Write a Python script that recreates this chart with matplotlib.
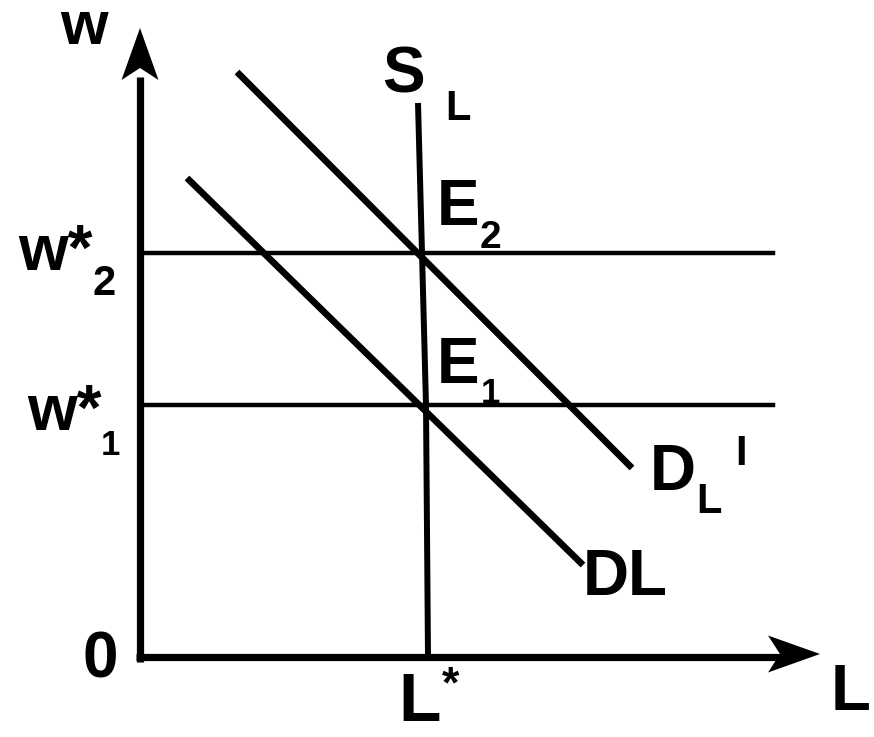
import numpy as np
import matplotlib
matplotlib.use("Agg")
import matplotlib.pyplot as plt
from matplotlib.patches import Polygon

# datos (unidades arbitrarias, origen en la esquina de los ejes)
w1 = 252
w2 = 404
L_star = 288
x_max = 633          # fin de las rectas horizontales
oferta_L = [278, 282, 286, 288]
oferta_w = [554, 404, 252, 0]
demanda_L = [47, 443]
demanda_w = [479, 92]
demanda2_L = [97, 492]
demanda2_w = [585, 189]

fig = plt.figure(figsize=(8.74, 7.37), dpi=100)
ax = fig.add_axes([0, 0, 1, 1])
ax.set_xlim(-140, 734)
ax.set_ylim(-80, 657)
ax.axis("off")

fuente = "Liberation Sans"

# ejes con flechas
ax.plot([0, 0], [-5, 580], color="black", lw=5.2, solid_capstyle="butt")
ax.plot([-4, 0], [0, 0], color="black", lw=5.2, solid_capstyle="butt")
ax.plot([0, 640], [0, 0], color="black", lw=5.2, solid_capstyle="butt")

def punta(x, y, dx, dy, largo=52, ancho=37, muesca=12):
    px, py = -dy, dx
    base_x, base_y = x - dx * largo, y - dy * largo
    pts = [(x, y),
           (base_x + px * ancho / 2, base_y + py * ancho / 2),
           (x - dx * (largo - muesca), y - dy * (largo - muesca)),
           (base_x - px * ancho / 2, base_y - py * ancho / 2)]
    ax.add_patch(Polygon(pts, closed=True, color="black", lw=0))

punta(0, 629, 0, 1)
punta(680, 3, 1, 0)

# salarios de equilibrio
ax.plot([0, x_max], [w2, w2], color="black", lw=3.2)
ax.plot([0, x_max], [w1, w1], color="black", lw=3.2)

# oferta de trabajo y L*
ax.plot(oferta_L, oferta_w, color="black", lw=4.3, solid_capstyle="butt")

# demandas
ax.plot(demanda_L, demanda_w, color="black", lw=4.8, solid_capstyle="butt")
ax.plot(demanda2_L, demanda2_w, color="black", lw=4.8, solid_capstyle="butt")

def txt(x, y, s, size, ha="center"):
    ax.text(x, y, s, fontsize=size, fontweight="bold", family=fuente,
            ha=ha, va="baseline", color="black")

# etiquetas de los ejes
txt(84 - 140, 657 - 44, "w", 44)
txt(100 - 140, 657 - 678, "0", 46)
txt(851 - 140, 657 - 710, "L", 47)
txt(420 - 140, 657 - 721, "L", 50)
txt(450 - 140, 657 - 697, "*", 32)

# w*2 y w*1
txt(18 - 140, 657 - 270, "w*", 46, ha="left")
txt(104 - 140, 657 - 295, "2", 30)
txt(27 - 140, 657 - 430, "w*", 46, ha="left")
txt(110 - 140, 657 - 455, "1", 25)

# S_L
txt(403 - 140, 657 - 92, "S", 46)
txt(458 - 140, 657 - 120, "L", 30)

# E2, E1
txt(458 - 140, 657 - 225, "E", 46)
txt(490 - 140, 657 - 248, "2", 28)
txt(458 - 140, 657 - 383, "E", 46)
txt(490 - 140, 657 - 403, "1", 25)

# D_L' y DL
txt(673 - 140, 657 - 490, "D", 46)
txt(709 - 140, 657 - 513, "L", 30)
txt(741 - 140, 657 - 465, "I", 30)
txt(625 - 140, 657 - 595, "DL", 46)

fig.savefig("out.png", dpi=100)
